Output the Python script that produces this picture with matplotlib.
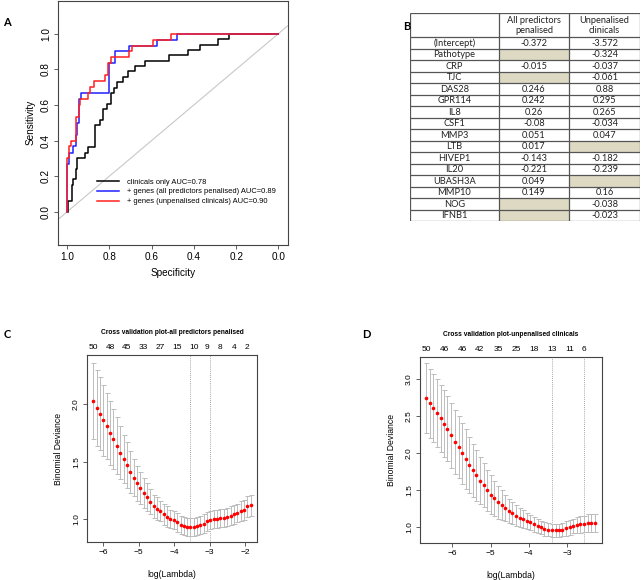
import matplotlib
matplotlib.use("Agg")
import matplotlib.pyplot as plt
from matplotlib.patches import Rectangle

plt.rcParams['font.family'] = ['Liberation Sans', 'DejaVu Sans']

# ---------------- Panel A data (ROC step vertices) ----------------
black_spec = [0.997,0.997,0.978,0.978,0.970,0.970,0.96,0.96,0.953,0.953,0.915,0.915,0.90,0.90,0.866,0.866,0.842,0.842,0.83,0.83,0.81,0.81,0.79,0.79,0.78,0.78,0.764,0.764,0.734,0.734,0.713,0.713,0.68,0.68,0.63,0.63,0.52,0.52,0.43,0.43,0.37,0.37,0.285,0.285,0.236,0.236,0.0]
black_sens = [0.0,0.061,0.061,0.152,0.152,0.182,0.182,0.242,0.242,0.303,0.303,0.333,0.333,0.364,0.364,0.485,0.485,0.515,0.515,0.576,0.576,0.606,0.606,0.667,0.667,0.697,0.697,0.727,0.727,0.758,0.758,0.788,0.788,0.818,0.818,0.848,0.848,0.879,0.879,0.909,0.909,0.939,0.939,0.970,0.970,1.0,1.0]
blue_spec = [1.0,1.0,0.99,0.99,0.97,0.97,0.96,0.96,0.955,0.955,0.945,0.945,0.935,0.935,0.803,0.803,0.772,0.772,0.706,0.706,0.576,0.576,0.478,0.478,0.0]
blue_sens = [0.0,0.267,0.267,0.333,0.333,0.367,0.367,0.433,0.433,0.50,0.50,0.633,0.633,0.667,0.667,0.833,0.833,0.90,0.90,0.933,0.933,0.967,0.967,1.0,1.0]
red_spec = [1.0,1.0,0.99,0.99,0.98,0.98,0.96,0.96,0.945,0.945,0.94,0.94,0.90,0.90,0.89,0.89,0.875,0.875,0.82,0.82,0.805,0.805,0.79,0.79,0.706,0.706,0.694,0.694,0.592,0.592,0.507,0.507,0.0]
red_sens = [0.0,0.30,0.30,0.367,0.367,0.40,0.40,0.533,0.533,0.60,0.60,0.633,0.633,0.667,0.667,0.70,0.70,0.733,0.733,0.767,0.767,0.833,0.833,0.867,0.867,0.90,0.90,0.933,0.933,0.967,0.967,1.0,1.0]
roc_labels = ["clinicals only AUC=0.78",
              "+ genes (all predictors penalised) AUC=0.89",
              "+ genes (unpenalised clinicals) AUC=0.90"]

# ---------------- Panel B data (coefficients table) ----------------
tbl_header = ["", "All predictors\npenalised", "Unpenalised\nclinicals"]
tbl_rows = ["(Intercept)","Pathotype","CRP","TJC","DAS28","GPR114","IL8","CSF1",
            "MMP3","LTB","HIVEP1","IL20","UBASH3A","MMP10","NOG","IFNB1"]
tbl_penalised = ["-0.372", None, "-0.015", None, "0.246", "0.242", "0.26", "-0.08",
                 "0.051", "0.017", "-0.143", "-0.221", "0.049", "0.149", None, None]
tbl_unpenalised = ["-3.572", "-0.324", "-0.037", "-0.061", "0.88", "0.295", "0.265", "-0.034",
                   "0.047", None, "-0.182", "-0.239", None, "0.16", "-0.038", "-0.023"]

# ---------------- Panel C data ----------------
c_loglam = [-6.27,-6.18,-6.08,-5.99,-5.89,-5.80,-5.71,-5.61,-5.52,-5.42,-5.33,-5.23,-5.14,-5.05,-4.95,-4.86,
            -4.76,-4.67,-4.58,-4.48,-4.39,-4.29,-4.20,-4.11,-4.01,-3.92,-3.82,-3.73,-3.64,-3.54,-3.45,-3.35,
            -3.26,-3.17,-3.07,-2.98,-2.88,-2.79,-2.70,-2.60,-2.51,-2.41,-2.32,-2.23,-2.13,-2.04,-1.94,-1.85]
c_dev = [2.03,1.97,1.92,1.86,1.81,1.75,1.70,1.64,1.58,1.52,1.47,1.41,1.36,1.31,1.27,1.23,
         1.19,1.15,1.11,1.09,1.07,1.04,1.02,1.00,0.99,0.97,0.95,0.94,0.93,0.93,0.93,0.94,
         0.95,0.96,0.98,0.99,1.00,1.00,1.01,1.01,1.02,1.03,1.04,1.05,1.07,1.08,1.11,1.12]
c_se = [0.33,0.33,0.32,0.31,0.29,0.28,0.26,0.25,0.23,0.21,0.20,0.18,0.16,0.15,0.14,0.13,
        0.12,0.11,0.10,0.10,0.09,0.09,0.09,0.08,0.08,0.08,0.08,0.08,0.08,0.08,0.08,0.08,
        0.08,0.08,0.08,0.08,0.08,0.08,0.08,0.08,0.08,0.08,0.08,0.08,0.09,0.09,0.09,0.09]
c_top_pos = [-6.27,-5.80,-5.33,-4.86,-4.39,-3.92,-3.45,-3.07,-2.70,-2.32,-1.94]
c_top_lab = ["50","48","45","33","27","15","10","9","8","4","2"]
c_vlines = [-3.54, -2.98]

# ---------------- Panel D data ----------------
d_loglam = [-6.69,-6.60,-6.50,-6.41,-6.31,-6.22,-6.13,-6.03,-5.94,-5.84,-5.75,-5.65,-5.56,-5.47,-5.37,-5.28,
            -5.18,-5.09,-5.00,-4.90,-4.81,-4.71,-4.62,-4.53,-4.43,-4.34,-4.24,-4.15,-4.06,-3.96,-3.87,-3.77,
            -3.68,-3.59,-3.49,-3.40,-3.30,-3.21,-3.12,-3.02,-2.93,-2.83,-2.74,-2.65,-2.55,-2.46,-2.36,-2.27]
d_dev = [2.74,2.67,2.61,2.54,2.47,2.40,2.33,2.24,2.155,2.08,2.00,1.92,1.84,1.77,1.70,1.63,
         1.57,1.50,1.44,1.39,1.34,1.30,1.26,1.22,1.19,1.16,1.13,1.11,1.09,1.07,1.04,1.02,
         1.00,0.98,0.97,0.96,0.96,0.96,0.97,0.99,1.00,1.02,1.03,1.04,1.05,1.06,1.06,1.06]
d_se = [0.47,0.47,0.46,0.46,0.45,0.45,0.44,0.44,0.43,0.42,0.41,0.40,0.38,0.36,0.34,0.32,
        0.30,0.28,0.26,0.24,0.22,0.20,0.18,0.16,0.15,0.14,0.13,0.12,0.11,0.10,0.10,0.09,
        0.09,0.09,0.09,0.09,0.09,0.09,0.09,0.10,0.10,0.10,0.11,0.11,0.11,0.12,0.12,0.12]
d_top_pos = [-6.69,-6.22,-5.75,-5.28,-4.81,-4.34,-3.87,-3.40,-2.93,-2.55]
d_top_lab = ["50","46","46","42","35","25","18","13","11","6"]
d_vlines = [-3.40, -2.55]

W, H = 641, 580
fig = plt.figure(figsize=(W/100, H/100), dpi=100)

def fax(l, t, r, b):
    return fig.add_axes([l/W, 1-b/H, (r-l)/W, (b-t)/H])

def rstyle(ax, fs):
    for s in ax.spines.values():
        s.set_color('#444444'); s.set_linewidth(0.8)
    ax.tick_params(direction='out', length=3, width=0.6, color='#444444', labelsize=fs, pad=2)
    for lab in ax.get_yticklabels():
        lab.set_rotation(90); lab.set_va('center')

# ---------------- Panel A ----------------
axA = fax(58, 0.5, 287.5, 245)
axA.axline((1, 0), (0, 1), color='#c8c8c8', lw=0.8, zorder=1)
axA.plot(black_spec, black_sens, color='black', lw=1.1, label=roc_labels[0], zorder=3)
axA.plot(blue_spec, blue_sens, color='#2020ff', lw=1.1, label=roc_labels[1], zorder=4)
axA.plot(red_spec, red_sens, color='#ff2020', lw=1.1, label=roc_labels[2], zorder=5)
axA.set_xlim(1.043, -0.043)
axA.set_ylim(-0.186, 1.186)
axA.set_xticks([1.0, 0.8, 0.6, 0.4, 0.2, 0.0])
axA.set_yticks([0.0, 0.2, 0.4, 0.6, 0.8, 1.0])
axA.set_xticklabels(["1.0", "0.8", "0.6", "0.4", "0.2", "0.0"])
axA.set_yticklabels(["0.0", "0.2", "0.4", "0.6", "0.8", "1.0"])
rstyle(axA, 7.2)
axA.set_xlabel("Specificity", fontsize=7.2, labelpad=4)
axA.set_ylabel("Sensitivity", fontsize=7.2, labelpad=4)
axA.legend(frameon=False, fontsize=5.4, loc='upper left', bbox_to_anchor=(0.155, 0.285),
           handlelength=3.0, handletextpad=1.0, labelspacing=0.35, borderaxespad=0)

# ---------------- Panel B ----------------
axB = fax(410, 13.3, 640, 221)
axB.set_xlim(0, 230); axB.set_ylim(207.7, 0); axB.axis('off')
col_edges = [0, 89, 159, 230]
head_h = 24
row_h = (207.7 - head_h) / len(tbl_rows)
shade = '#ddd9c3'
tfont = dict(family=['Lato', 'DejaVu Sans'], fontsize=6.7, color='#222222')
for j in range(3):
    axB.text((col_edges[j]+col_edges[j+1])/2, head_h/2, tbl_header[j], ha='center', va='center',
             linespacing=1.2, **tfont)
for i, name in enumerate(tbl_rows):
    y0 = head_h + i*row_h
    vals = [name, tbl_penalised[i], tbl_unpenalised[i]]
    for j in range(3):
        x0, x1 = col_edges[j], col_edges[j+1]
        if vals[j] is None:
            axB.add_patch(Rectangle((x0, y0), x1-x0, row_h, facecolor=shade, edgecolor='none'))
        else:
            axB.text((x0+x1)/2, y0+row_h/2+0.3, vals[j], ha='center', va='center', **tfont)
lc = '#555555'
axB.hlines([0, head_h] + [head_h + k*row_h for k in range(1, len(tbl_rows)+1)], 0, 230, color=lc, lw=0.9)
axB.vlines(col_edges, 0, 207.7, color=lc, lw=0.9)

# ---------------- Panels C & D ----------------
def cvpanel(ax, x, y, se, top_pos, top_lab, vls, title, xlim, ylim, xt, yt):
    ax.errorbar(x, y, yerr=se, fmt='none', ecolor='#bcbcbc', elinewidth=0.7, capsize=1.8, capthick=0.7, zorder=2)
    ax.plot(x, y, 'o', color='#ff0000', ms=2.6, mec='none', zorder=3)
    for v in vls:
        ax.axvline(v, color='#888888', lw=0.6, ls=(0, (1, 1.5)), zorder=1)
    ax.set_xlim(*xlim); ax.set_ylim(*ylim)
    ax.set_xticks(xt); ax.set_yticks(yt)
    ax.set_xticklabels(["\u2212%d" % abs(v) for v in xt])
    ax.set_yticklabels(["%.1f" % v for v in yt])
    rstyle(ax, 6)
    ax.set_xlabel("log(Lambda)", fontsize=6.2, labelpad=10)
    ax.set_ylabel("Binomial Deviance", fontsize=6.2, labelpad=7)
    sec = ax.secondary_xaxis('top')
    sec.set_xticks(top_pos)
    sec.set_xticklabels(top_lab)
    sec.tick_params(length=0, labelsize=6, pad=3)
    sec.spines['top'].set_visible(False)
    ax.set_title(title, fontsize=4.8, fontweight='bold', pad=15)

axC = fax(87, 355, 257, 542)
cvpanel(axC, c_loglam, c_dev, c_se, c_top_pos, c_top_lab, c_vlines,
        "Cross validation plot-all predictors penalised",
        (-6.45, -1.67), (0.80, 2.43), [-6, -5, -4, -3, -2], [1.0, 1.5, 2.0])

axD = fax(420, 356.7, 601.7, 543)
cvpanel(axD, d_loglam, d_dev, d_se, d_top_pos, d_top_lab, d_vlines,
        "Cross validation plot-unpenalised clinicals",
        (-6.85, -2.09), (0.79, 3.30), [-6, -5, -4, -3], [1.0, 1.5, 2.0, 2.5, 3.0])

# panel letters
for lab, px, py in [("A", 3, 22), ("B", 403, 27), ("C", 4, 334), ("D", 362, 334)]:
    fig.text(px/W, 1-py/H, lab, fontsize=8, fontweight='bold', ha='left', va='center',
             family=['Lato', 'DejaVu Sans'])

fig.savefig("out.png", dpi=100)
